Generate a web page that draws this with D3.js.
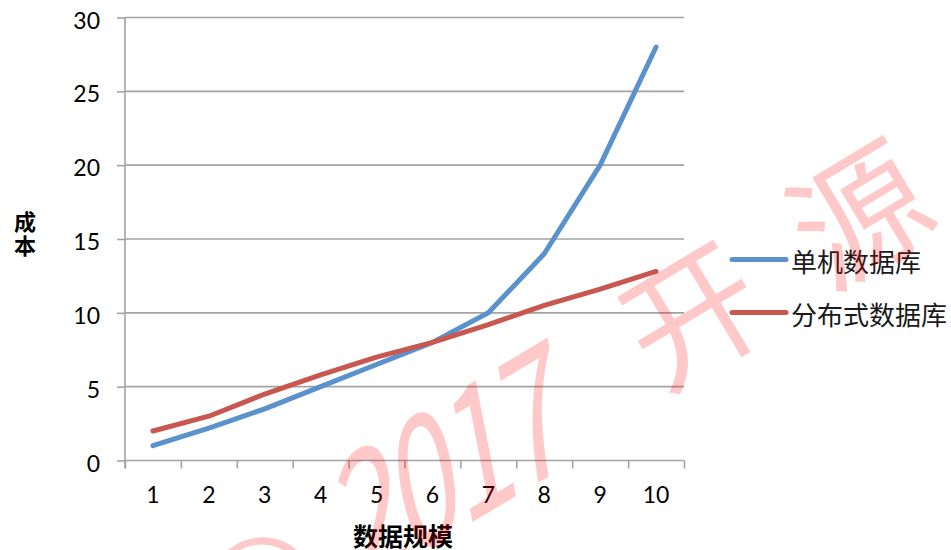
<!DOCTYPE html>
<html>
<head>
<meta charset="utf-8">
<script src="https://cdn.jsdelivr.net/npm/d3@7"></script>
<style>
  html, body { margin: 0; padding: 0; background: #fff; }
  svg { display: block; }
</style>
</head>
<body>
<svg id="chart" width="951" height="550"></svg>
<script>
// Data
const categories = [1, 2, 3, 4, 5, 6, 7, 8, 9, 10];
const singleDb = [1, 2.2, 3.5, 5, 6.5, 8, 10, 14, 20, 28];
const distributedDb = [2, 3, 4.5, 5.8, 7, 8, 9.2, 10.5, 11.6, 12.8];
const seriesNames = ["单机数据库", "分布式数据库"];
const yTicks = [0, 5, 10, 15, 20, 25, 30];
const xTitle = "数据规模";
const yTitle = ["成", "本"];
const watermarkGlyphs = ["©", "2", "0", "1", "7", "开", "源", "中"];

const svg = d3.select("#chart");
const plotLeft = 125, plotRight = 684, plotTop = 17.5, plotBottom = 460.5;
const axisColor = "#a3a3a3";
const numFont = "Lato, 'Open Sans', sans-serif";
const cjkFont = "'Noto Sans CJK SC', 'Noto Sans', sans-serif";
const colors = ["#5a92cd", "#c8574f"];

const x = d3.scaleBand().domain(categories).range([plotLeft, plotRight]).padding(0);
const xEdge = d3.scaleLinear().domain([0, categories.length]).range([plotLeft, plotRight]);
const y = d3.scaleLinear().domain([0, 30]).range([plotBottom, plotTop]);

// Horizontal gridlines
svg.append("g")
  .selectAll("line")
  .data(yTicks.filter(t => t > 0))
  .join("line")
  .attr("x1", plotLeft).attr("x2", plotRight)
  .attr("y1", d => y(d)).attr("y2", d => y(d))
  .attr("stroke", axisColor).attr("stroke-width", 1.6);

// Y axis
const yAxis = svg.append("g")
  .attr("transform", `translate(${plotLeft},0)`)
  .call(d3.axisLeft(y).tickValues(yTicks).tickSize(8).tickPadding(17));
yAxis.select(".domain").attr("stroke", axisColor).attr("stroke-width", 1.6)
  .attr("d", `M0,${plotTop}V${plotBottom + 8}`);
yAxis.selectAll(".tick line").attr("stroke", axisColor).attr("stroke-width", 1.6);
yAxis.selectAll(".tick text")
  .attr("font-family", numFont).attr("font-size", 23)
  .attr("fill", "#000").attr("dy", "0.46em");

// X axis: boundary ticks
const xTicks = svg.append("g")
  .attr("transform", `translate(0,${plotBottom})`)
  .call(d3.axisBottom(xEdge).tickValues(d3.range(0, categories.length + 1)).tickFormat("").tickSize(8));
xTicks.select(".domain").attr("stroke", axisColor).attr("stroke-width", 1.6)
  .attr("d", `M${plotLeft},0H${plotRight}`);
xTicks.selectAll(".tick line").attr("stroke", axisColor).attr("stroke-width", 1.6);

// X axis: category labels
const xLabels = svg.append("g")
  .attr("transform", `translate(0,${plotBottom})`)
  .call(d3.axisBottom(x).tickSize(0).tickPadding(26));
xLabels.select(".domain").remove();
xLabels.selectAll(".tick text")
  .attr("font-family", numFont).attr("font-size", 23).attr("fill", "#000");

// Axis titles: y title stacked vertically
svg.append("text")
  .attr("text-anchor", "middle")
  .attr("font-family", cjkFont).attr("font-weight", "bold").attr("font-size", 22)
  .attr("fill", "#000")
  .selectAll("tspan")
  .data(yTitle)
  .join("tspan")
  .attr("x", 25)
  .attr("y", (d, i) => 230 + i * 24)
  .text(d => d);

svg.append("text")
  .attr("x", 403).attr("y", 535)
  .attr("text-anchor", "middle").attr("dominant-baseline", "central")
  .attr("font-family", cjkFont).attr("font-weight", "bold").attr("font-size", 25)
  .attr("fill", "#000")
  .text(xTitle);

// Series lines
const line = d3.line()
  .x((d, i) => x(categories[i]) + x.bandwidth() / 2)
  .y(d => y(d));

[singleDb, distributedDb].forEach((vals, k) => {
  svg.append("path")
    .datum(vals)
    .attr("d", line)
    .attr("fill", "none")
    .attr("stroke", colors[k])
    .attr("stroke-width", 5)
    .attr("stroke-linecap", "round")
    .attr("stroke-linejoin", "round");
});

// Legend
const legend = svg.append("g").selectAll("g")
  .data(seriesNames)
  .join("g")
  .attr("transform", (d, i) => `translate(732,${259.5 + i * 53})`);
legend.append("line")
  .attr("x1", 0).attr("x2", 54)
  .attr("stroke", (d, i) => colors[i])
  .attr("stroke-width", 5)
  .attr("stroke-linecap", "round");
legend.append("text")
  .attr("x", 59).attr("y", 1)
  .attr("dominant-baseline", "central")
  .attr("font-family", cjkFont).attr("font-size", 26)
  .attr("fill", "#1a1a1a")
  .text(d => d);

// Watermark, laid along a slanted baseline
const wmWidths = watermarkGlyphs.map(g => /\d/.test(g) ? 63 : (g === "©" ? 190 : 195));
const wmGap = 53;
let acc = 0;
const wmCenters = wmWidths.map((w, i) => {
  const c = acc + w / 2 + (i >= 5 ? wmGap : 0);
  acc += w;
  return c - wmWidths[0] / 2;
});
const wm = svg.append("g")
  .attr("transform", "translate(255,568) rotate(-31)")
  .attr("pointer-events", "none");
wm.selectAll("text")
  .data(watermarkGlyphs)
  .join("text")
  .attr("transform", (d, i) => {
    if (d === "©") return "translate(-6,14)";
    const base = `translate(${wmCenters[i] + 8},0)`;
    return /\d/.test(d) ? base + " skewX(-20) scale(0.75,1)" : base;
  })
  .attr("text-anchor", "middle")
  .attr("dominant-baseline", "central")
  .attr("font-family", cjkFont)
  .attr("font-size", d => /\d/.test(d) ? 168 : (d === "©" ? 150 : 135))
  .attr("fill", "rgb(255,0,0)")
  .attr("fill-opacity", 0.21)
  .text(d => d);
</script>
</body>
</html>
